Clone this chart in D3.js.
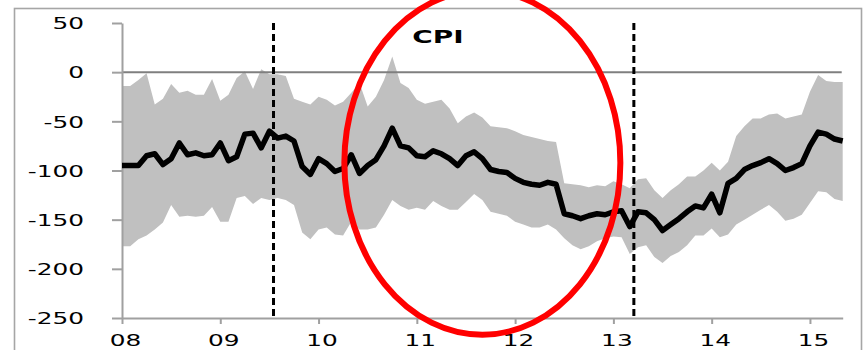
<!DOCTYPE html>
<html>
<head>
<meta charset="utf-8">
<script src="https://cdn.jsdelivr.net/npm/d3@7"></script>
<style>
  html, body { margin: 0; padding: 0; background: #fff; }
  svg { display: block; }
  text { font-family: "DejaVu Sans", Verdana, sans-serif; fill: #000; }
</style>
</head>
<body>
<svg id="chart" width="868" height="350"></svg>
<script>
// Monthly CPI surprise index, Jan 2008 – May 2015 (month 0 = Jan 2008)
const centralPath = [-95,-95,-95,-85,-83,-94,-88,-72,-84,-82,
  -85,-84,-72,-90,-86,-63,-62,-77,-60,-67,
  -65,-70,-96,-104,-88,-93,-101,-98,-84,-103,
  -95,-89,-75,-57,-75,-77,-85,-86,-80,-83,
  -88,-95,-85,-81,-88,-99,-101,-102,-108,-112,
  -114,-115,-112,-114,-144,-146,-149,-146,-144,-145,
  -142,-141,-157,-142,-143,-150,-161,-155,-149,-142,
  -136,-138,-124,-143,-113,-108,-99,-95,-92,-88,
  -93,-100,-97,-93,-75,-61,-63,-68,-70];

const upperBand = [-14,-14,-8,-1,-33,-27,-12,-21,-19,-23,
  -23,-7,-29,-23,-6,1,-17,3,-2,-2,
  -4,-27,-30,-33,-25,-28,-34,-30,-21,-11,
  -35,-25,-8,16,-11,-16,-28,-32,-30,-28,
  -37,-52,-45,-41,-46,-55,-56,-57,-60,-64,
  -66,-68,-70,-71,-113,-114,-115,-117,-115,-116,
  -111,-114,-118,-109,-108,-120,-128,-120,-114,-106,
  -106,-100,-92,-100,-91,-65,-55,-47,-47,-43,
  -42,-47,-45,-43,-20,-3,-9,-10,-10];

const lowerBand = [-177,-177,-170,-166,-160,-153,-135,-147,-146,-147,
  -146,-137,-152,-152,-128,-126,-134,-128,-130,-128,
  -130,-135,-163,-170,-160,-158,-165,-166,-152,-160,
  -160,-158,-145,-130,-136,-140,-138,-140,-131,-136,
  -140,-140,-132,-124,-130,-142,-144,-146,-152,-155,
  -158,-158,-155,-160,-169,-176,-180,-177,-172,-169,
  -167,-168,-185,-178,-176,-188,-194,-187,-183,-176,
  -166,-166,-159,-168,-165,-155,-150,-145,-140,-135,
  -142,-151,-149,-145,-133,-121,-122,-129,-131];

const yTicks = [50, 0, -50, -100, -150, -200, -250];
const xTickMonths = [0, 12, 24, 36, 48, 60, 72, 84];
const xTickLabels = ["08", "09", "10", "11", "12", "13", "14", "15"];
const markerMonths = [18.5, 62.5];          // dashed reference dates
const highlight = { from: 27.15, to: 60.85, top: 83, bottom: -267 }; // circled period
const title = "CPI";

const svg = d3.select("#chart");
const TEXT_STRETCH = 1.55;

const x = d3.scaleLinear().domain([0, 88]).range([122, 842.7]);
const y = d3.scaleLinear().domain([-250, 50]).range([318, 23]);

// outer chart frame
svg.append("rect")
  .attr("x", 14.5).attr("y", 8.5)
  .attr("width", 847).attr("height", 360)
  .attr("fill", "none").attr("stroke", "#a6a6a6").attr("stroke-width", 1.6);

const months = d3.range(centralPath.length);

// shaded range
svg.append("path")
  .datum(months)
  .attr("fill", "#c0c0c0")
  .attr("d", d3.area()
    .x(i => x(i))
    .y0(i => y(lowerBand[i]))
    .y1(i => y(upperBand[i])));

// zero line
svg.append("line")
  .attr("x1", x(0)).attr("x2", x(88) - 1)
  .attr("y1", y(0)).attr("y2", y(0))
  .attr("stroke", "#7f7f7f").attr("stroke-width", 2);

// y axis
const yAxis = svg.append("g")
  .attr("transform", `translate(${x(0)},0)`)
  .call(d3.axisLeft(y).tickValues(yTicks).tickSize(10).tickSizeOuter(0)
    .tickFormat(d => String(d)));
yAxis.selectAll("path, line").attr("stroke", "#a0a0a0").attr("stroke-width", 2);
yAxis.selectAll("text")
  .attr("x", 0).attr("dy", "0.36em")
  .attr("text-anchor", "end")
  .attr("transform", `translate(-38,0) scale(${TEXT_STRETCH},1)`)
  .style("font-size", "16px").style("font-family", "DejaVu Sans, Verdana, sans-serif")
  .attr("fill", "#000");

// x axis
const xAxis = svg.append("g")
  .attr("transform", `translate(0,${y(-250)})`)
  .call(d3.axisBottom(x).tickValues(xTickMonths).tickSize(6).tickSizeOuter(0)
    .tickFormat((d, i) => xTickLabels[i]));
xAxis.selectAll("path, line").attr("stroke", "#a0a0a0").attr("stroke-width", 2);
xAxis.selectAll("text")
  .attr("y", 0).attr("dy", 0)
  .attr("text-anchor", "middle")
  .attr("transform", `translate(3,28) scale(${TEXT_STRETCH},1)`)
  .style("font-size", "16px").style("font-family", "DejaVu Sans, Verdana, sans-serif")
  .attr("fill", "#000");

// central path
svg.append("path")
  .datum(months)
  .attr("fill", "none")
  .attr("stroke", "#000")
  .attr("stroke-width", 5.5)
  .attr("stroke-linejoin", "round")
  .attr("d", d3.line().x(i => x(i)).y(i => y(centralPath[i])));

// dashed reference lines
svg.selectAll("line.marker")
  .data(markerMonths)
  .join("line")
  .attr("class", "marker")
  .attr("x1", d => x(d)).attr("x2", d => x(d))
  .attr("y1", y(50)).attr("y2", y(-250))
  .attr("stroke", "#000").attr("stroke-width", 3)
  .attr("stroke-dasharray", "7,4");

// circled period
svg.append("ellipse")
  .attr("cx", (x(highlight.from) + x(highlight.to)) / 2)
  .attr("cy", (y(highlight.top) + y(highlight.bottom)) / 2)
  .attr("rx", (x(highlight.to) - x(highlight.from)) / 2)
  .attr("ry", (y(highlight.bottom) - y(highlight.top)) / 2)
  .attr("fill", "none").attr("stroke", "#ff0000").attr("stroke-width", 6);

// title
svg.append("text")
  .attr("text-anchor", "middle")
  .attr("transform", `translate(438,43) scale(${TEXT_STRETCH},1)`)
  .style("font-size", "18px").style("font-weight", "bold")
  .text(title);
</script>
</body>
</html>
